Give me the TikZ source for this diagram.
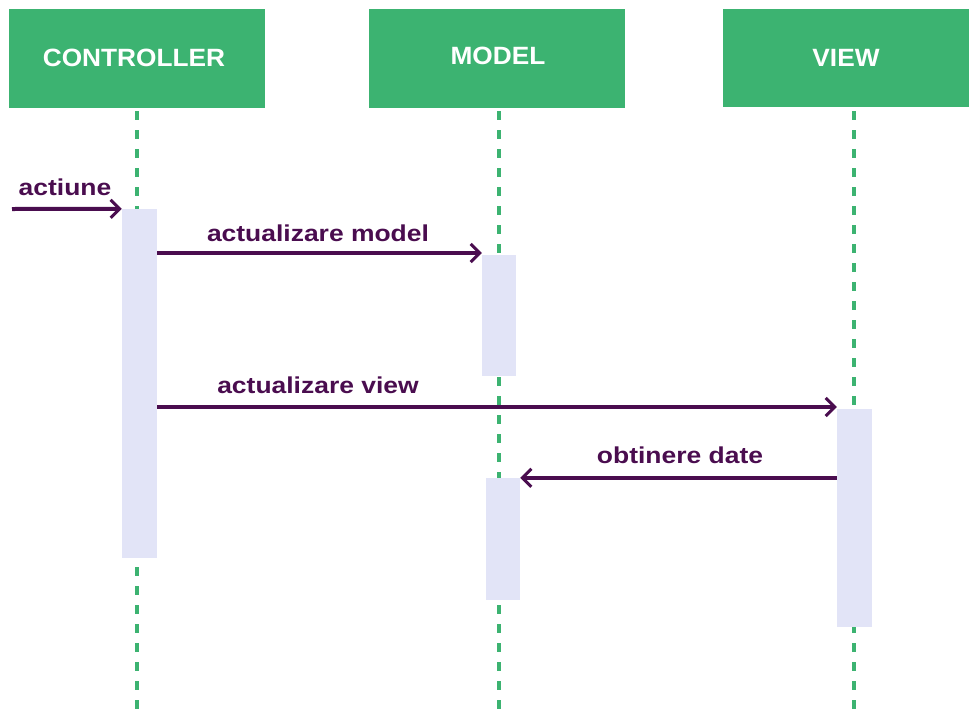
\documentclass[tikz,border=0pt]{standalone}
\usepackage{fontspec}
\setmainfont{Liberation Sans}
\newfontfamily\hdrfont{Liberation Sans}[FakeStretch=1.05]
\newfontfamily\msgfont{Liberation Sans}[FakeStretch=1.15]
\usetikzlibrary{arrows.meta}
\definecolor{hdrgreen}{HTML}{3CB371}
\definecolor{msgpurple}{HTML}{4A0D4F}
\definecolor{actfill}{HTML}{E2E4F7}
\begin{document}
\begin{tikzpicture}[x=1pt,y=-1pt,
  header/.style={fill=hdrgreen, draw=none, inner sep=0pt},
  headertext/.style={text=white, inner sep=0pt,
    font=\hdrfont\bfseries\fontsize{25}{29}\selectfont},
  lifeline/.style={draw=hdrgreen, line width=4.5pt, dash pattern=on 9pt off 10pt},
  actbox/.style={fill=actfill, draw=none, inner sep=0pt, minimum width=35pt},
  msg/.style={draw=msgpurple, line width=4pt,
    -{Straight Barb[length=9pt,width=18pt,line width=3pt]}},
  msglabel/.style={text=msgpurple, inner sep=0pt, anchor=base,
    font=\msgfont\bfseries\fontsize{23}{27}\selectfont}]
\useasboundingbox (0,0) rectangle (969,710);

% participant headers
\node[header, minimum width=256pt, minimum height=99pt] (ctrl) at (137,58.5) {};
\node[headertext] (ctrltxt) at (134,58) {CONTROLLER};
\node[header, minimum width=256pt, minimum height=99pt] (model) at (497,58.5) {};
\node[headertext] (modeltxt) at (498,56) {MODEL};
\node[header, minimum width=246pt, minimum height=98pt] (view) at (846,58) {};
\node[headertext] (viewtxt) at (846,58) {VIEW};

% lifelines
\coordinate (ctrlTop) at (137,111);
\coordinate (ctrlEnd) at (137,710);
\coordinate (modelTop) at (499,111);
\coordinate (modelEnd) at (499,710);
\coordinate (viewTop) at (854,111);
\coordinate (viewEnd) at (854,710);
\draw[lifeline] (ctrlTop) -- (ctrlEnd);
\draw[lifeline] (modelTop) -- (modelEnd);
\draw[lifeline] (viewTop) -- (viewEnd);

% activation bars
\node[actbox, minimum height=349pt] (ctrlAct) at (139.5,383.5) {};
\node[actbox, minimum width=34pt, minimum height=121pt] (modelActA) at (499,315.5) {};
\node[actbox, minimum width=34pt, minimum height=122pt] (modelActB) at (503,539) {};
\node[actbox, minimum height=218pt] (viewAct) at (854.5,518) {};

% messages
\coordinate (extIn) at (12,209);
\draw[msg] (extIn) -- (ctrlAct.north west);
\node[msglabel] (lblAct) at (65,195) {actiune};

\draw[msg] (ctrlAct.east |- 0,253) -- (modelActA.north west |- 0,253);
\node[msglabel] (lblModel) at (318,241) {actualizare model};

\draw[msg] (ctrlAct.east |- 0,407) -- (viewAct.north west |- 0,407);
\node[msglabel] (lblView) at (318,393) {actualizare view};

\draw[msg] (viewAct.west |- modelActB.north east) -- (modelActB.north east);
\node[msglabel] (lblData) at (680,463) {obtinere date};
\end{tikzpicture}
\end{document}
